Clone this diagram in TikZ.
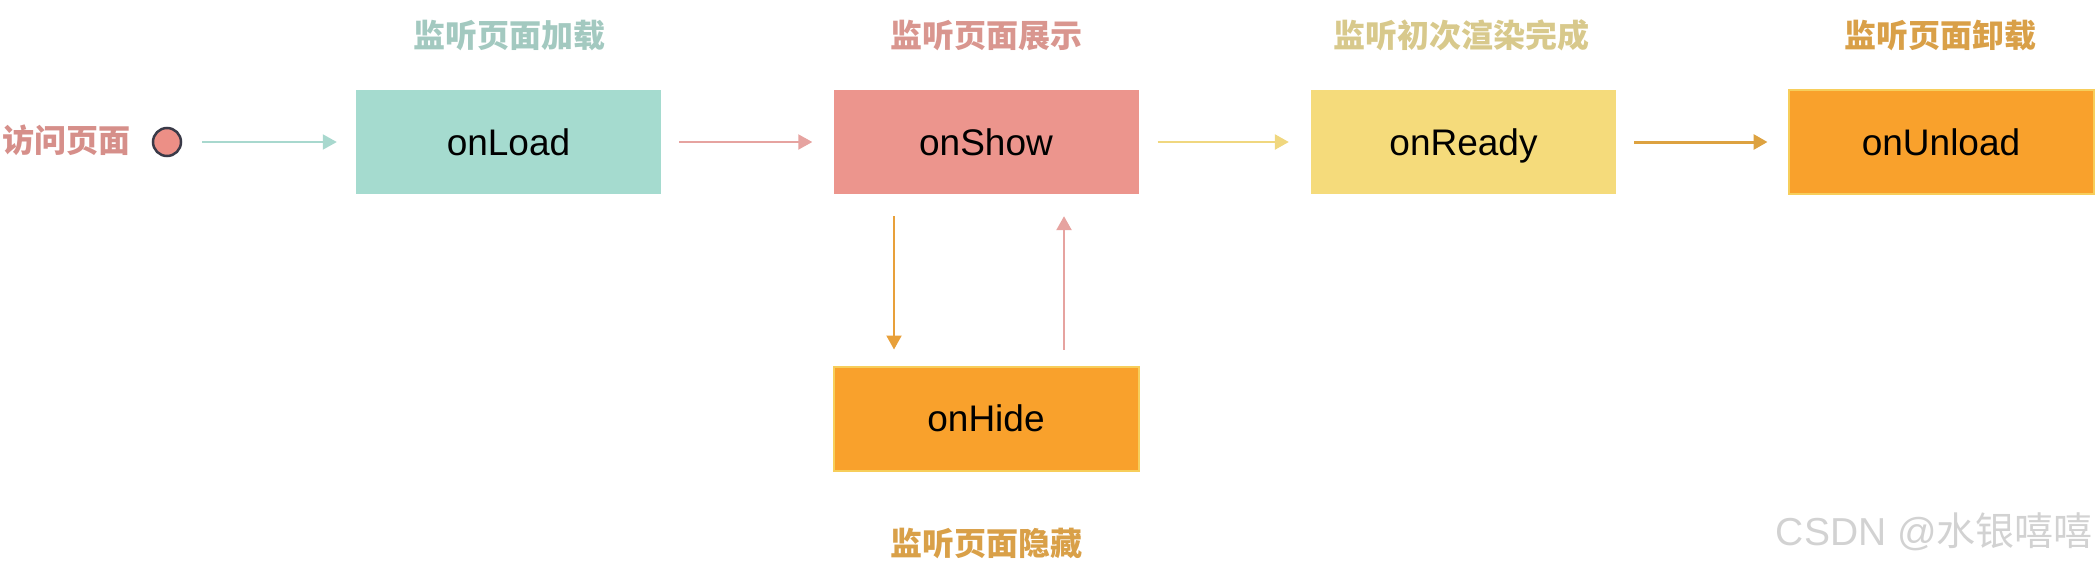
\documentclass[tikz,border=0pt]{standalone}
\usepackage{fontspec}
\setmainfont{Liberation Sans}
\newfontfamily\cjk{Noto Sans CJK SC}
\usetikzlibrary{arrows.meta}
\definecolor{tealbox}{HTML}{A5DBCF}
\definecolor{pinkbox}{HTML}{EC958D}
\definecolor{yellowbox}{HTML}{F5DB7B}
\definecolor{orangebox}{HTML}{F9A12C}
\definecolor{orangeedge}{HTML}{F7CE5B}
\definecolor{ttlteal}{HTML}{A3C9C0}
\definecolor{ttlpink}{HTML}{D9968F}
\definecolor{ttlyellow}{HTML}{D8C98C}
\definecolor{ttlorange}{HTML}{D9A048}
\definecolor{visitc}{HTML}{D68F8A}
\definecolor{arrteal}{HTML}{A8D8CE}
\definecolor{arrpink}{HTML}{E6A3A0}
\definecolor{arryellow}{HTML}{F0D77F}
\definecolor{arrgold}{HTML}{DDA240}
\definecolor{arrorange}{HTML}{E8A03A}
\definecolor{circfill}{HTML}{EC8F86}
\definecolor{circedge}{HTML}{3A3A48}
\definecolor{wmark}{HTML}{D2D2D2}
\tikzset{
  hookbox/.style={rectangle, minimum width=305pt, minimum height=104pt, inner sep=0pt,
    text height=26pt, text depth=0pt,
    font=\fontsize{37}{40}\selectfont, text=black},
  ttl/.style={font=\cjk\bfseries\fontsize{32}{36}\selectfont, inner sep=0pt},
  conn/.style={line width=2pt, -{Triangle[length=14pt,width=15pt]}},
}
\begin{document}
\begin{tikzpicture}[x=1pt,y=-1pt]
\useasboundingbox (0,0) rectangle (2100,568);
% start
\node[font=\cjk\bfseries\fontsize{32}{36}\selectfont, text=visitc, inner sep=0pt] (visit) at (66,140) {访问页面};
\node[circle, fill=circfill, draw=circedge, line width=2.5pt, minimum size=28pt, inner sep=0pt] (start) at (167,142) {};
% boxes
\node[hookbox, fill=tealbox] (load) at (508.5,142) {onLoad};
\node[hookbox, fill=pinkbox] (show) at (986,142) {onShow};
\node[hookbox, fill=yellowbox] (ready) at (1463.5,142) {onReady};
\node[hookbox, fill=orangebox, draw=orangeedge, line width=2pt] (unload) at (1941,142) {onUnload};
\node[hookbox, fill=orangebox, draw=orangeedge, line width=2pt] (hide) at (986,418.5) {onHide};
% titles
\node[ttl, text=ttlteal] (tload) at (509,35) {监听页面加载};
\node[ttl, text=ttlpink] (tshow) at (986,35) {监听页面展示};
\node[ttl, text=ttlyellow] (tready) at (1461,35) {监听初次渲染完成};
\node[ttl, text=ttlorange] (tunload) at (1940,35) {监听页面卸载};
\node[ttl, text=ttlorange] (thide) at (986,543) {监听页面隐藏};
% connectors
\draw[conn, arrteal, shorten <=20pt, shorten >=19pt] (start) -- (load);
\draw[conn, arrpink, shorten <=18pt, shorten >=21pt] (load) -- (show);
\draw[conn, arryellow, line width=2.5pt, shorten <=19pt, shorten >=22pt] (show) -- (ready);
\draw[conn, arrgold, line width=3pt, shorten <=18pt, shorten >=20pt] (ready) -- (unload);
\draw[conn, arrorange, shorten <=22pt, shorten >=16pt] ([xshift=-92pt]show.south) -- ([xshift=-92pt]hide.north);
\draw[conn, arrpink, line width=2.5pt, shorten <=16pt, shorten >=22pt] ([xshift=78pt]hide.north) -- ([xshift=78pt]show.south);
% watermark
\node[anchor=east, text=wmark, font=\fontsize{39}{42}\selectfont, inner sep=0pt] (wm) at (2093,532) {CSDN @{\cjk 水银嘻嘻}};
\end{tikzpicture}
\end{document}
